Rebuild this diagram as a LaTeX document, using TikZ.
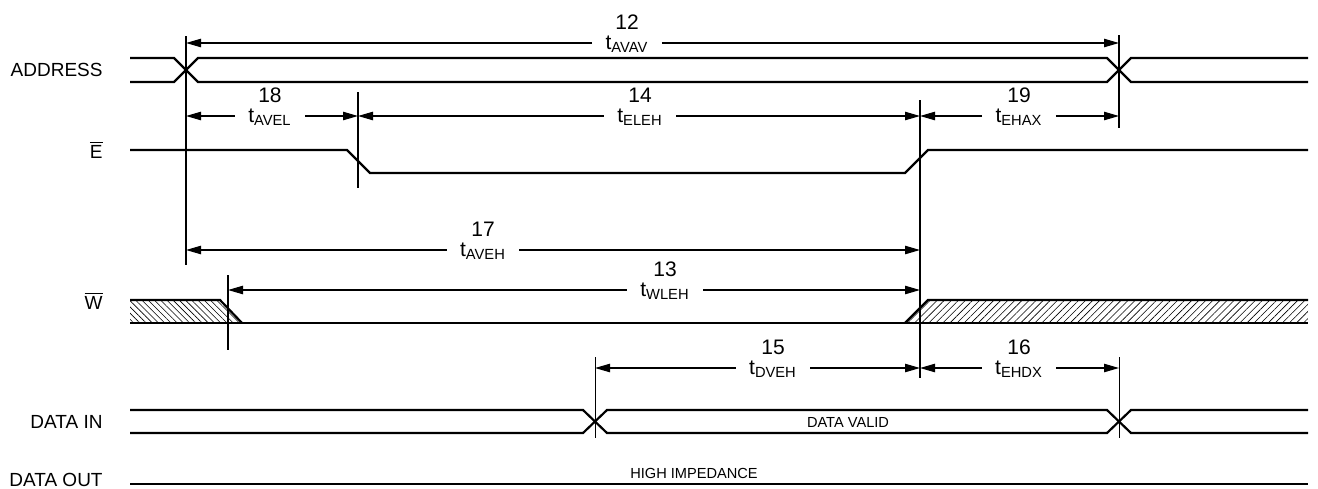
\documentclass[tikz,border=0pt]{standalone}
\usepackage{fontspec}
\setmainfont{Liberation Sans}
\usetikzlibrary{arrows.meta,calc,patterns.meta}
\tikzset{sig/.style={line width=1.1pt}}
\tikzset{guide/.style={line width=0.7pt}}
\tikzset{dim/.style={line width=0.6pt,-{Triangle[length=7.5pt,width=4.2pt]}}}
\tikzset{signame/.style={anchor=east,inner sep=0pt,font=\fontsize{9.5}{11}\selectfont}}
\tikzset{numlbl/.style={anchor=base,inner sep=0pt,font=\fontsize{10.5}{12}\selectfont}}
\tikzset{tlbl/.style={anchor=base,inner ysep=0pt,inner xsep=6.5pt,font=\fontsize{10.5}{12}\selectfont}}
\tikzset{state/.style={anchor=center,inner sep=0pt,font=\fontsize{7.3}{9}\selectfont}}
\newcommand{\tspan}[7]{
	\coordinate (#1l) at (#2,#4);
	\coordinate (#1r) at (#3,#4);
	\node[numlbl] (n#1) at (#5,#4-14) {#6};
	\node[tlbl] (t#1) at (#5,#4+6) {t\textsubscript{#7}};
	\draw[dim] (t#1.west |- #1l) -- (#1l);
	\draw[dim] (t#1.east |- #1r) -- (#1r);
}

\begin{document}
\begin{tikzpicture}[x=0.5pt,y=-0.5pt]
	\useasboundingbox (0,0) rectangle (1318,488);
	% signal names
	\node[signame] (address) at (103,70) {ADDRESS};
	\node[signame] (enable) at (103,150) {$\overline{\mbox{E}}$};
	\node[signame] (write) at (103,301) {$\overline{\mbox{W}}$};
	\node[signame] (datain) at (103,422) {DATA IN};
	\node[signame] (dataout) at (103,480) {DATA OUT};
	% hatched don't care parts of W
	\fill[pattern={Lines[angle=-45,distance=2.2pt,line width=0.3pt]}] (130,300) -- (220,300) -- (242,323) -- (130,323) -- cycle;
	\fill[pattern={Lines[angle=45,distance=2.5pt,line width=0.3pt]}] (905,323) -- (928,300) -- (1308,300) -- (1308,323) -- cycle;
	% waveforms
	\draw[sig] (130,58) -- (174,58) -- (198,82) -- (1107,82) -- (1131,58) -- (1308,58);
	\draw[sig] (130,82) -- (174,82) -- (198,58) -- (1107,58) -- (1131,82) -- (1308,82);
	\draw[sig] (130,150) -- (347,150) -- (370,173) -- (905,173) -- (928,150) -- (1308,150);
	\draw[sig] (130,300) -- (220,300) -- (242,323);
	\draw[sig] (130,323) -- (1308,323);
	\draw[sig] (905,323) -- (928,300) -- (1308,300);
	\draw[sig] (130,410) -- (583,410) -- (607,433) -- (1107,433) -- (1131,410) -- (1308,410);
	\draw[sig] (130,433) -- (583,433) -- (607,410) -- (1107,410) -- (1131,433) -- (1308,433);
	\draw[sig] (130,484) -- (1308,484);
	\node[state] (valid) at (848,422) {DATA VALID};
	\node[state] (highz) at (694,473) {HIGH IMPEDANCE};
	% reference edges
	\draw[guide] (186,36) -- (186,265);
	\draw[guide] (1119,35) -- (1119,128);
	\draw[guide] (358,92) -- (358,188);
	\draw[guide] (920,100) -- (920,378);
	\draw[guide] (228,275) -- (228,350);
	\draw[guide,line width=0.5pt] (595,357) -- (595,438);
	\draw[guide,line width=0.5pt] (1119,357) -- (1119,438);
	% timing parameters
	\tspan{AVAV}{186}{1119}{43}{627}{12}{AVAV}
	\tspan{AVEL}{186}{358}{116}{270}{18}{AVEL}
	\tspan{ELEH}{358}{920}{116}{640}{14}{ELEH}
	\tspan{EHAX}{920}{1119}{116}{1019}{19}{EHAX}
	\tspan{AVEH}{186}{920}{250}{483}{17}{AVEH}
	\tspan{WLEH}{228}{920}{290}{665}{13}{WLEH}
	\tspan{DVEH}{595}{920}{368}{773}{15}{DVEH}
	\tspan{EHDX}{920}{1119}{368}{1019}{16}{EHDX}
\end{tikzpicture}
\end{document}
